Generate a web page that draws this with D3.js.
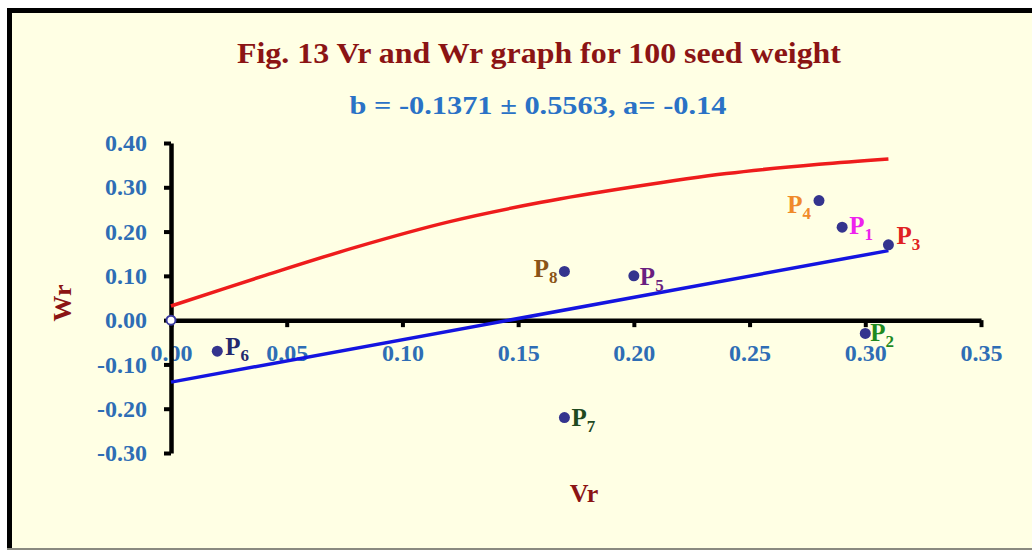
<!DOCTYPE html>
<html>
<head>
<meta charset="utf-8">
<script src="https://cdn.jsdelivr.net/npm/d3@7"></script>
<style>
  body { margin: 0; background: #fff; }
  svg { display: block; font-family: "Liberation Serif", "Times New Roman", Times, serif; font-weight: bold; }
</style>
</head>
<body>
<div id="chart"></div>
<script>
// parent data (Vr, Wr)
var parents = ["1", "2", "3", "4", "5", "6", "7", "8"];
var vrValues = [0.29, 0.30, 0.31, 0.28, 0.20, 0.02, 0.17, 0.17];
var wrValues = [0.21, -0.03, 0.17, 0.27, 0.10, -0.07, -0.22, 0.11];
var parentColors = ["#ee22ee", "#1f8a1f", "#e02222", "#f08a2a", "#6a1f80", "#24286e", "#1f4a1f", "#8a5418"];

// limiting parabola (red)
var parabolaVr = [0, 0.04, 0.08, 0.12, 0.16, 0.20, 0.24, 0.28, 0.31];
var parabolaWr = [0.032, 0.10, 0.165, 0.222, 0.266, 0.301, 0.331, 0.352, 0.364];

// regression line (blue)
var regVr = [0, 0.31];
var regWr = [-0.14, 0.157];

var xTicks = [0, 0.05, 0.10, 0.15, 0.20, 0.25, 0.30, 0.35];
var yTicks = [-0.30, -0.20, -0.10, 0.00, 0.10, 0.20, 0.30, 0.40];

var titleText = "Fig. 13 Vr and Wr graph for 100 seed weight";
var subText = "b = -0.1371 \u00b1 0.5563,  a= -0.14";

// label placement: dx, dy relative to point, anchor
var labelPlace = [
  {dx: 7, dy: 7, a: "start"},
  {dx: 5, dy: 8, a: "start"},
  {dx: 8, dy: -1, a: "start"},
  {dx: -8, dy: 12, a: "end"},
  {dx: 6, dy: 9, a: "start"},
  {dx: 8, dy: 4, a: "start"},
  {dx: 7, dy: 8, a: "start"},
  {dx: -7, dy: 6, a: "end"}
];

var W = 1032, H = 551;
var svg = d3.select("#chart").append("svg").attr("width", W).attr("height", H);

// frame
svg.append("rect").attr("x", 10).attr("y", 11).attr("width", W).attr("height", 537).attr("fill", "#ffffe4");
svg.append("line").attr("x1", 7).attr("x2", W).attr("y1", 10.5).attr("y2", 10.5).attr("stroke", "#000").attr("stroke-width", 5);
svg.append("line").attr("x1", 9.5).attr("x2", 9.5).attr("y1", 8).attr("y2", 548).attr("stroke", "#000").attr("stroke-width", 5);
svg.append("line").attr("x1", 7).attr("x2", W).attr("y1", 549).attr("y2", 549).attr("stroke", "#8a8a80").attr("stroke-width", 2);

var x = d3.scaleLinear().domain([0, 0.35]).range([171, 981]);
var y = d3.scaleLinear().domain([-0.30, 0.40]).range([453, 143]);

// titles
svg.append("text").attr("x", 539).attr("y", 63).attr("text-anchor", "middle")
  .attr("fill", "#8b1414").style("font-size", "30px")
  .attr("textLength", 604).attr("lengthAdjust", "spacingAndGlyphs")
  .text(titleText);
svg.append("text").attr("x", 538).attr("y", 114).attr("text-anchor", "middle")
  .attr("fill", "#2a72c6").style("font-size", "25px")
  .attr("textLength", 377).attr("lengthAdjust", "spacingAndGlyphs")
  .text(subText);

// axes (plain hyphen for negatives, like the reference)
var locale = d3.formatLocale({decimal: ".", thousands: ",", grouping: [3], currency: ["", ""], minus: "-"});
var fmt = locale.format(".2f");
var xAxis = d3.axisBottom(x).tickValues(xTicks).tickFormat(fmt).tickSize(7).tickSizeOuter(0).tickPadding(17);
var yAxis = d3.axisLeft(y).tickValues(yTicks).tickFormat(fmt).tickSize(7).tickSizeOuter(0).tickPadding(17);

var gx = svg.append("g").attr("transform", "translate(0," + y(0) + ")").call(xAxis);
var gy = svg.append("g").attr("transform", "translate(" + x(0) + ",0)").call(yAxis);

[gx, gy].forEach(function (g) {
  g.attr("font-family", null).attr("font-size", null);
  g.select(".domain").attr("stroke", "#000").attr("stroke-width", 4.5);
  g.selectAll(".tick line").attr("stroke", "#000").attr("stroke-width", 4);
  g.selectAll(".tick text").attr("fill", "#2e6db5").style("font-size", "24px");
});

// axis titles
svg.append("text").attr("transform", "translate(71," + 303 + ") rotate(-90)")
  .attr("text-anchor", "middle").attr("fill", "#8b1414").style("font-size", "26px").text("Wr");
svg.append("text").attr("x", 584).attr("y", 502).attr("text-anchor", "middle")
  .attr("fill", "#8b1414").style("font-size", "26px").text("Vr");

// red parabola
var redPts = parabolaVr.map(function (v, i) { return [v, parabolaWr[i]]; });
svg.append("path").datum(redPts)
  .attr("d", d3.line().x(function (d) { return x(d[0]); }).y(function (d) { return y(d[1]); }).curve(d3.curveCatmullRom.alpha(0.5)))
  .attr("fill", "none").attr("stroke", "#ee1c1c").attr("stroke-width", 3.5);

// blue regression line
var bluePts = regVr.map(function (v, i) { return [v, regWr[i]]; });
svg.append("path").datum(bluePts)
  .attr("d", d3.line().x(function (d) { return x(d[0]); }).y(function (d) { return y(d[1]); }))
  .attr("fill", "none").attr("stroke", "#1414e0").attr("stroke-width", 3.5);

// origin marker
svg.append("circle").attr("cx", x(0)).attr("cy", y(0)).attr("r", 4.5)
  .attr("fill", "#fff").attr("stroke", "#3a3aa0").attr("stroke-width", 2);

// parent points
var pts = parents.map(function (p, i) {
  return {name: p, vr: vrValues[i], wr: wrValues[i], color: parentColors[i], place: labelPlace[i]};
});
var pg = svg.append("g");
pg.selectAll("circle.pt").data(pts).enter().append("circle")
  .attr("class", "pt")
  .attr("cx", function (d) { return x(d.vr); })
  .attr("cy", function (d) { return y(d.wr); })
  .attr("r", 5.5).attr("fill", "#34348e");

var lab = pg.selectAll("text.lab").data(pts).enter().append("text")
  .attr("class", "lab")
  .attr("x", function (d) { return x(d.vr) + d.place.dx; })
  .attr("y", function (d) { return y(d.wr) + d.place.dy; })
  .attr("text-anchor", function (d) { return d.place.a; })
  .attr("fill", function (d) { return d.color; })
  .style("font-size", "25px");
lab.append("tspan").text("P");
lab.append("tspan").attr("dy", 6).style("font-size", "17px").text(function (d) { return d.name; });
</script>
</body>
</html>
